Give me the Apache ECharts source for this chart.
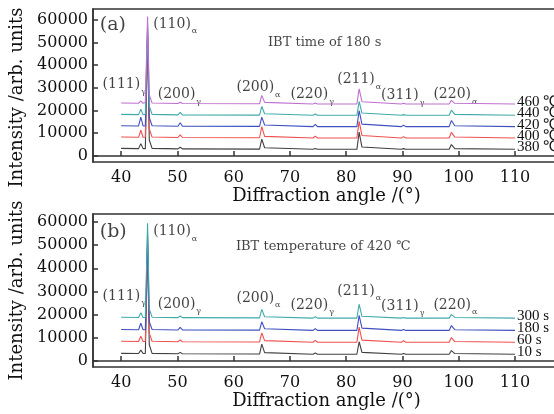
<!DOCTYPE html>
<html>
<head>
<meta charset="utf-8">
<script src="https://cdn.jsdelivr.net/npm/echarts@6/dist/echarts.min.js"></script>
<style>
  html, body { margin: 0; padding: 0; background: #fff; }
  #chart { width: 554px; height: 414px; }
</style>
</head>
<body>
<div id="chart"></div>
<script>
// diffraction angles shared by every curve
const angles = [40, 43.1, 43.5, 43.9, 44.3, 44.7, 45.0, 45.5, 50.1, 50.5, 50.9, 64.6, 65.0, 65.5,
  74.1, 74.5, 74.9, 81.9, 82.3, 82.8, 89.8, 90.2, 90.6, 98.3, 98.7, 99.3, 110];

// (a) IBT time of 180 s, different temperatures
const tempNames = ['380 ℃', '400 ℃', '420 ℃', '440 ℃', '460 ℃'];
const int380 = [3300, 3200, 5400, 3200, 3200, 52000, 7000, 3300, 3100, 3800, 3100, 3000, 7400, 3600, 2900, 3300, 2900, 2900, 10500, 3900, 2900, 3200, 2900, 2900, 5000, 3200, 2900];
const int400 = [8300, 8200, 11300, 8200, 8200, 53000, 12000, 8300, 8100, 9300, 8100, 8000, 12900, 8600, 7900, 8700, 7900, 7900, 15200, 9000, 7900, 8500, 7900, 7900, 10400, 8300, 7900];
const int420 = [13300, 13200, 17100, 13200, 13200, 56000, 17000, 13300, 13100, 14600, 13100, 13000, 17100, 13600, 12900, 13900, 12900, 12900, 20000, 14000, 12900, 13500, 12900, 12900, 15600, 13300, 12900];
const int440 = [18300, 18200, 20600, 18200, 18300, 58000, 22000, 18300, 18100, 19200, 18100, 18000, 21800, 18600, 17900, 18500, 17900, 17900, 24000, 18900, 17900, 18200, 17900, 17900, 20200, 18300, 17900];
const int460 = [23300, 23200, 24300, 23200, 23600, 61500, 27000, 23300, 23100, 23700, 23100, 23000, 26700, 23600, 22900, 23300, 22900, 22900, 29600, 23900, 22900, 23200, 22900, 22900, 24500, 23200, 22900];

// (b) IBT temperature of 420 ℃, different times
const timeNames = ['10 s', '60 s', '180 s', '300 s'];
const int10 = [3300, 3200, 4700, 3200, 3200, 50000, 7000, 3300, 3100, 3700, 3100, 3000, 7300, 3600, 2900, 3400, 2900, 2900, 8300, 3700, 2900, 3200, 2900, 2900, 4500, 3200, 2900];
const int60 = [8500, 8400, 10700, 8400, 8400, 52000, 12000, 8500, 8300, 9100, 8300, 8200, 12100, 8800, 8100, 8900, 8100, 8100, 14600, 9000, 8100, 8700, 8100, 8100, 10100, 8400, 8100];
const int180 = [13600, 13500, 16300, 13500, 13500, 55000, 17000, 13600, 13400, 14500, 13400, 13300, 16900, 13900, 13200, 13900, 13200, 13200, 19700, 14200, 13200, 13600, 13200, 13200, 15300, 13500, 13200];
const int300 = [18900, 18800, 20800, 18800, 18800, 59500, 22500, 18900, 18700, 19400, 18700, 18600, 22300, 19100, 18500, 19100, 18500, 18500, 24500, 19300, 18500, 18800, 18500, 18500, 20100, 18800, 18500];

const xTicks = [40, 50, 60, 70, 80, 90, 100, 110];
const yTicks = [0, 10000, 20000, 30000, 40000, 50000, 60000];

// peak labels: [hkl, phase]
const peakNames = [['(111)', 'γ'], ['(110)', 'α'], ['(200)', 'γ'], ['(200)', 'α'], ['(220)', 'γ'], ['(211)', 'α'], ['(311)', 'γ'], ['(220)', 'α']];
// label anchors (left edge of text) in data coords
const peakPosA = [[36.7, 31200], [45.7, 57800], [46.5, 26800], [60.5, 29900], [70.1, 26800], [78.4, 33400], [86.2, 26400], [95.5, 26800]];
const peakPosB = [[36.7, 27700], [45.7, 55700], [46.5, 24300], [60.5, 26900], [70.1, 23900], [78.4, 29900], [86.2, 23400], [95.5, 23900]];

const serif = 'DejaVu Serif';
const colorsA = ['#404040', '#f05050', '#4050c0', '#40aaaa', '#c070d0'];
const colorsB = ['#404040', '#f05050', '#4050c0', '#40aaaa'];

function pairs(ys) { return angles.map((x, i) => [x, ys[i]]); }

function curve(name, ys, color, idx) {
  return {
    name: name, type: 'line', xAxisIndex: idx, yAxisIndex: idx,
    data: pairs(ys), symbol: 'none', animation: false,
    lineStyle: { color: color, width: 1.1 },
    endLabel: { show: true, formatter: '{a}', fontFamily: 'Liberation Serif', fontSize: 15, color: '#111', distance: 2, offset: [0, -2] }
  };
}

const rich = {
  m: { fontFamily: serif, fontSize: 14, color: '#111', lineHeight: 15, verticalAlign: 'top' },
  s: { fontFamily: serif, fontSize: 8, color: '#111', lineHeight: 9, verticalAlign: 'top', padding: [10, 0, 0, 1] },
  t: { fontFamily: serif, fontSize: 13, color: '#111' },
  p: { fontFamily: serif, fontSize: 19, color: '#111' }
};

function notes(pos, extra, idx) {
  const data = peakNames.map((p, i) => ({ value: pos[i], name: '{m|' + p[0] + '}{s|' + p[1] + '}' }));
  extra.forEach(e => data.push(e));
  return {
    type: 'scatter', xAxisIndex: idx, yAxisIndex: idx, symbolSize: 0, silent: true, animation: false,
    data: data,
    label: { show: true, position: 'right', distance: 0, formatter: p => p.name, rich: rich }
  };
}

function xAxis(idx) {
  return {
    type: 'value', gridIndex: idx, min: 35, max: 118,
    name: 'Diffraction angle /(°)', nameLocation: 'middle', nameGap: 24,
    nameTextStyle: { fontFamily: serif, fontSize: 18, color: '#111' },
    axisLine: { lineStyle: { color: '#333', width: 1.5 } },
    axisTick: { inside: true, length: 5, customValues: xTicks, lineStyle: { color: '#333', width: 1.5 } },
    axisLabel: { customValues: xTicks, margin: 8, fontFamily: serif, fontSize: 16, color: '#111' },
    splitLine: { show: false }
  };
}

function yAxis(idx, min, max, shift) {
  return {
    type: 'value', gridIndex: idx, min: min, max: max,
    name: 'Intensity /arb. units', nameLocation: 'middle', nameGap: 55,
    nameTextStyle: { fontFamily: serif, fontSize: 18, color: '#111', padding: [0, shift, 0, 0] },
    axisLine: { lineStyle: { color: '#333', width: 1.5 } },
    axisTick: { inside: true, length: 5, customValues: yTicks, lineStyle: { color: '#333', width: 1.5 } },
    axisLabel: { customValues: yTicks, margin: 5, fontFamily: serif, fontSize: 16, color: '#111', formatter: v => String(v) },
    splitLine: { show: false }
  };
}

const option = {
  backgroundColor: '#fff',
  grid: [
    { left: 93, top: 9, width: 467, height: 153, show: true, borderColor: '#333', borderWidth: 1.5, outerBoundsMode: 'none' },
    { left: 93, top: 214, width: 467, height: 153, show: true, borderColor: '#333', borderWidth: 1.5, outerBoundsMode: 'none' }
  ],
  xAxis: [xAxis(0), xAxis(1)],
  yAxis: [yAxis(0, -2700, 64800, 24), yAxis(1, -2600, 63450, 0)],
  series: [
    curve(tempNames[0], int380, colorsA[0], 0),
    curve(tempNames[1], int400, colorsA[1], 0),
    curve(tempNames[2], int420, colorsA[2], 0),
    curve(tempNames[3], int440, colorsA[3], 0),
    curve(tempNames[4], int460, colorsA[4], 0),
    curve(timeNames[0], int10, colorsB[0], 1),
    curve(timeNames[1], int60, colorsB[1], 1),
    curve(timeNames[2], int180, colorsB[2], 1),
    curve(timeNames[3], int300, colorsB[3], 1),
    notes(peakPosA, [
      { value: [36.2, 57800], name: '{p|(a)}' },
      { value: [66.1, 49800], name: '{t|IBT time of 180 s}' }
    ], 0),
    notes(peakPosB, [
      { value: [36.2, 55700], name: '{p|(b)}' },
      { value: [60.4, 49200], name: '{t|IBT temperature of 420 ℃}' }
    ], 1)
  ]
};

const myChart = echarts.init(document.getElementById('chart'));
myChart.setOption(option);
</script>
</body>
</html>
